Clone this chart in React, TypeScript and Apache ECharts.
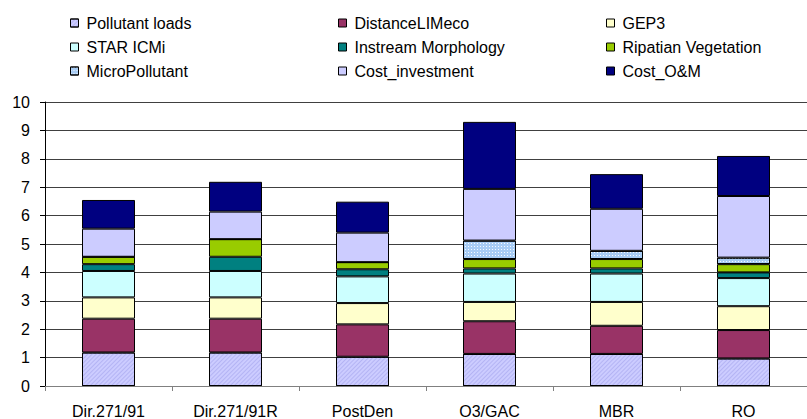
import React, { useEffect, useRef } from "react";
import * as echarts from "echarts";

const categories = ["Dir.271/91", "Dir.271/91R", "PostDen", "O3/GAC", "MBR", "RO"];
const seriesNames = [
  "Pollutant loads",
  "DistanceLIMeco",
  "GEP3",
  "STAR ICMi",
  "Instream Morphology",
  "Ripatian Vegetation",
  "MicroPollutant",
  "Cost_investment",
  "Cost_O&M",
];
const pollutantLoads = [1.18, 1.18, 1.03, 1.13, 1.13, 0.97];
const distanceLIMeco = [1.19, 1.19, 1.14, 1.15, 0.99, 1.0];
const gep3 = [0.75, 0.75, 0.75, 0.68, 0.84, 0.84];
const starICMi = [0.93, 0.93, 0.94, 1.0, 1.0, 0.99];
const instreamMorphology = [0.24, 0.5, 0.25, 0.18, 0.18, 0.2];
const ripatianVegetation = [0.26, 0.62, 0.25, 0.33, 0.33, 0.29];
const microPollutant = [0, 0, 0, 0.65, 0.29, 0.23];
const costInvestment = [0.99, 0.97, 1.04, 1.82, 1.48, 2.17];
const costOM = [1.01, 1.05, 1.09, 2.36, 1.22, 1.41];
const yTicks = [0, 1, 2, 3, 4, 5, 6, 7, 8, 9, 10];

const values = [
  pollutantLoads,
  distanceLIMeco,
  gep3,
  starICMi,
  instreamMorphology,
  ripatianVegetation,
  microPollutant,
  costInvestment,
  costOM,
];
const colors = [
  "#CCCCFF",
  "#993366",
  "#FFFFCC",
  "#CCFFFF",
  "#008080",
  "#99CC00",
  "#A8CCF4",
  "#CCCCFF",
  "#000080",
];

const FONT = "'Liberation Sans', Arial, sans-serif";

export default function App() {
  const ref = useRef<HTMLDivElement>(null);
  useEffect(() => {
    if (!ref.current) return;
    const chart = echarts.init(ref.current, null, { renderer: "svg" });
    const decals: any[] = [
      {
        symbol: "rect",
        color: "rgba(150,150,230,0.45)",
        dashArrayX: [1, 0],
        dashArrayY: [1, 2],
        rotation: -Math.PI / 4,
        symbolSize: 1,
      },
      null,
      null,
      null,
      null,
      null,
      {
        symbol: "rect",
        color: "rgba(255,255,255,0.9)",
        dashArrayX: [1, 2],
        dashArrayY: [1, 2],
        symbolSize: 1,
      },
      null,
      null,
    ];
    const series = seriesNames.map((name, i) => ({
      name,
      type: "bar",
      stack: "total",
      barWidth: 53,
      data: values[i],
      itemStyle: {
        color: colors[i],
        borderColor: "#000",
        borderWidth: 1,
        ...(decals[i] ? { decal: decals[i] } : {}),
      },
    }));
    const legendCols = [
      [seriesNames[0], seriesNames[3], seriesNames[6]],
      [seriesNames[1], seriesNames[4], seriesNames[7]],
      [seriesNames[2], seriesNames[5], seriesNames[8]],
    ];
    const legendLeft = [70, 338, 606];
    chart.setOption({
      animation: false,
      color: colors,
      legend: legendCols.map((data, i) => ({
        data,
        orient: "vertical",
        left: legendLeft[i],
        top: 14,
        padding: 0,
        itemWidth: 8,
        itemHeight: 8,
        itemGap: 6,
        icon: "rect",
        selectedMode: false,
        itemStyle: { borderColor: "#000", borderWidth: 1 },
        textStyle: {
          fontFamily: FONT,
          fontSize: 16,
          lineHeight: 18,
          color: "#000",
          padding: [0, 0, 0, 3],
        },
      })),
      grid: { left: 45, right: -10, top: 102, bottom: 31, containLabel: false },
      xAxis: {
        type: "category",
        data: categories,
        axisLine: { lineStyle: { color: "#808080", width: 1 } },
        axisTick: { show: true, length: 5, lineStyle: { color: "#808080" } },
        axisLabel: {
          fontFamily: FONT,
          fontSize: 16,
          color: "#000",
          margin: 17,
        },
      },
      yAxis: {
        type: "value",
        min: yTicks[0],
        max: yTicks[yTicks.length - 1],
        interval: 1,
        axisLine: { show: true, lineStyle: { color: "#000", width: 1 } },
        axisTick: { show: true, length: 5, lineStyle: { color: "#000" } },
        axisLabel: { fontFamily: FONT, fontSize: 16, color: "#000", margin: 15 },
        splitLine: { lineStyle: { color: "#404040", width: 1 } },
      },
      series,
    });
    return () => chart.dispose();
  }, []);
  return (
    <div
      ref={ref}
      style={{ position: "absolute", left: 0, top: 0, width: 807, height: 419, background: "#fff" }}
    />
  );
}
